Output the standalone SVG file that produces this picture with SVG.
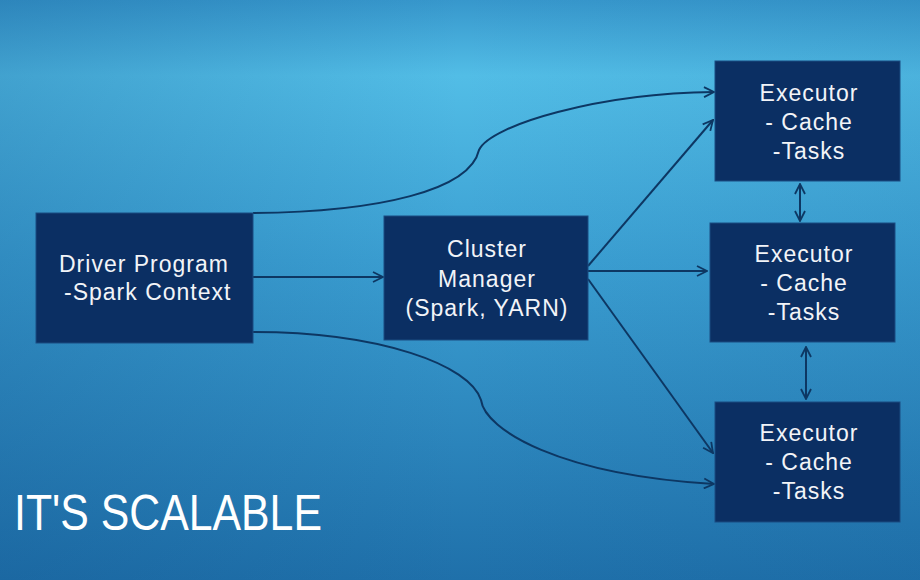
<svg xmlns="http://www.w3.org/2000/svg" width="920" height="580" viewBox="0 0 920 580">
<defs>
<linearGradient id="bg" x1="0" y1="0" x2="0" y2="1">
<stop offset="0" stop-color="#3797cc"/>
<stop offset="0.13" stop-color="#52bde6"/>
<stop offset="0.45" stop-color="#3b9fd2"/>
<stop offset="1" stop-color="#1f70aa"/>
</linearGradient>
<linearGradient id="side" x1="0" y1="0" x2="1" y2="0">
<stop offset="0" stop-color="#10508a" stop-opacity="0.25"/>
<stop offset="0.5" stop-color="#10508a" stop-opacity="0"/>
<stop offset="1" stop-color="#10508a" stop-opacity="0.1"/>
</linearGradient>
<marker id="ah" viewBox="0 0 12 12" refX="11" refY="6" markerWidth="12" markerHeight="12" markerUnits="userSpaceOnUse" orient="auto-start-reverse">
<path d="M1,1 L11,6 L1,11" fill="none" stroke="#0d3763" stroke-width="1.8"/>
</marker>
<style>
.box{fill:#0b2f63;stroke:#1b4c82;stroke-width:1}
.t{font-family:"Liberation Sans",Arial,sans-serif;font-size:23px;letter-spacing:1px;fill:#f2f4f8}
.c{text-anchor:middle}
.ln{fill:none;stroke:#0d3763;stroke-width:2;marker-end:url(#ah)}
.bi{marker-start:url(#ah)}
</style>
</defs>
<rect width="920" height="580" fill="url(#bg)"/>
<rect width="920" height="580" fill="url(#side)"/>
<g id="connectors">
<path class="ln" d="M253,213 C380,212 470,190 479,150 C490,125 600,93 714,92"/>
<path class="ln" d="M253,277 L383,277"/>
<path class="ln" d="M253,332 C380,332 470,365 481,400 C485,430 560,475 714,484"/>
<path class="ln" d="M588,266 L713,120"/>
<path class="ln" d="M588,271 L707,271"/>
<path class="ln" d="M588,279 L713,453"/>
<path class="ln bi" d="M800,184 L800,221"/>
<path class="ln bi" d="M806,347 L806,399"/>
</g>
<g id="driver">
<rect class="box" x="36" y="213" width="217" height="130"/>
<text class="t" x="59" y="272">Driver Program</text>
<text class="t" x="64" y="300">-Spark Context</text>
</g>
<g id="cluster">
<rect class="box" x="384" y="216" width="204" height="124"/>
<text class="t c" x="487" y="257">Cluster</text>
<text class="t c" x="487" y="287">Manager</text>
<text class="t c" x="487" y="316">(Spark, YARN)</text>
</g>
<g id="executor1">
<rect class="box" x="715" y="61" width="185" height="120"/>
<text class="t c" x="809" y="101">Executor</text>
<text class="t c" x="809" y="130">- Cache</text>
<text class="t c" x="809" y="159">-Tasks</text>
</g>
<g id="executor2">
<rect class="box" x="710" y="223" width="185" height="119"/>
<text class="t c" x="804" y="262">Executor</text>
<text class="t c" x="804" y="291">- Cache</text>
<text class="t c" x="804" y="320">-Tasks</text>
</g>
<g id="executor3">
<rect class="box" x="715" y="402" width="185" height="120"/>
<text class="t c" x="809" y="441">Executor</text>
<text class="t c" x="809" y="470">- Cache</text>
<text class="t c" x="809" y="499">-Tasks</text>
</g>
<text x="14" y="530" font-family="'Liberation Sans',Arial,sans-serif" font-size="50" fill="#ffffff" textLength="308" lengthAdjust="spacingAndGlyphs">IT'S SCALABLE</text>
</svg>
